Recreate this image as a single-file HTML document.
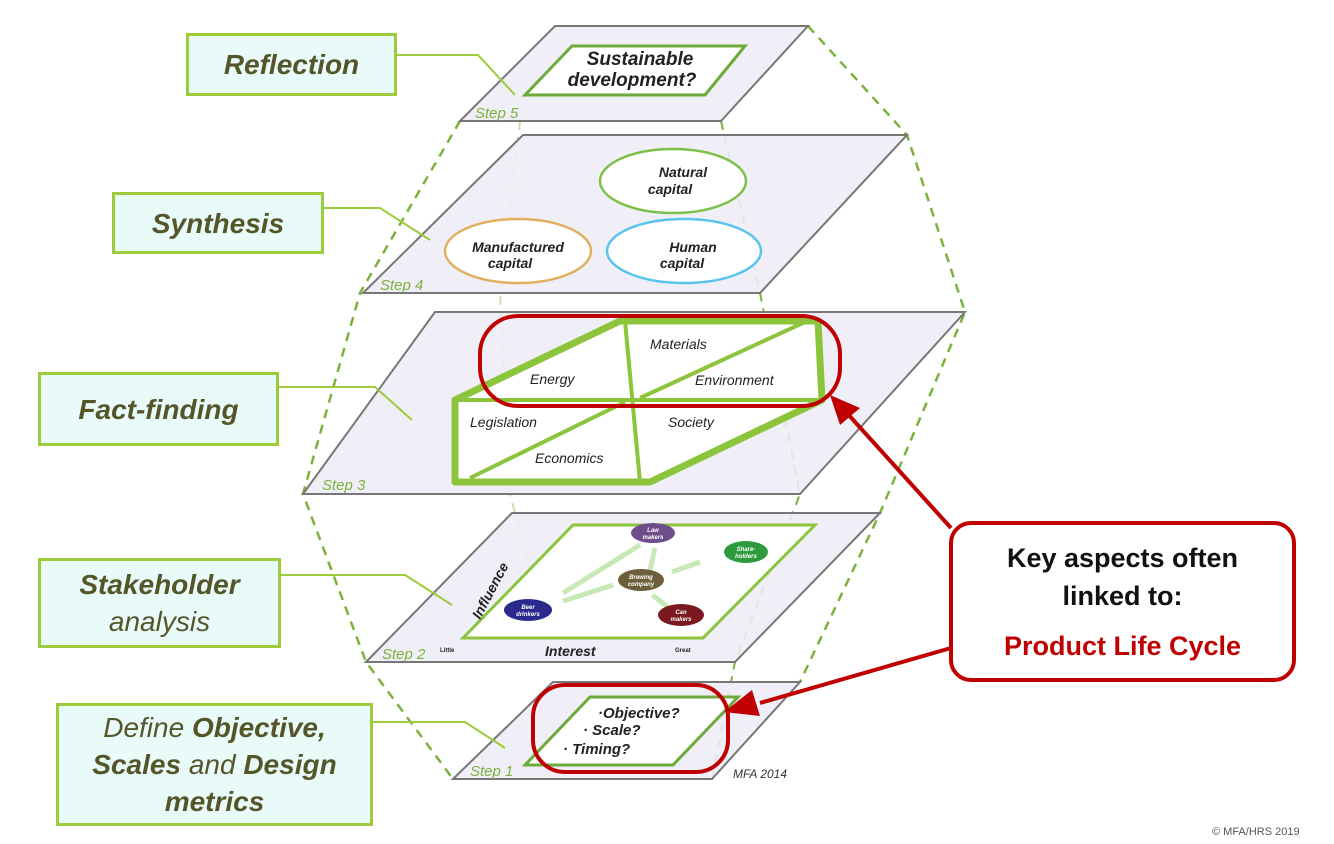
<!DOCTYPE html>
<html><head><meta charset="utf-8"><style>
html,body{margin:0;padding:0;background:#fff;}
body{width:1334px;height:844px;position:relative;overflow:hidden;font-family:"Liberation Sans",sans-serif;}
.lb{position:absolute;background:#e9fbf9;border:3px solid #9ccc3c;box-sizing:border-box;color:#55552a;font-style:italic;font-weight:bold;font-size:28px;display:flex;align-items:center;justify-content:center;text-align:center;line-height:37px;}
.n{font-weight:normal;}
</style></head><body>
<svg width="1334" height="844" style="position:absolute;left:0;top:0" font-family="Liberation Sans, sans-serif">
<defs>
<marker id="ah" markerWidth="8" markerHeight="8" refX="6" refY="4" orient="auto" markerUnits="userSpaceOnUse" viewBox="0 0 8 8"><path d="M0,0 L8,4 L0,8 z" fill="#c00000"/></marker>
</defs>
<g stroke="#7bb33a" stroke-width="2.5" stroke-dasharray="9,7" fill="none">
<polyline points="460,121 360,293 303,494 366,662 453,779"/>
<polyline points="808,26 907,135 965,312 880,513 800,682"/>
<polyline points="721,121 760,293 800,494 735,662 712,779" stroke-width="2"/>
</g>
<g stroke="#c9e0b0" stroke-width="2" stroke-dasharray="9,7" fill="none">
<polyline points="520,121 500,293 510,494 555,662"/>
</g>
<!-- planes -->
<g fill="#eeedf6" fill-opacity="0.88" stroke="#777" stroke-width="2">
<polygon points="453,779 553,682 800,682 712,779"/>
<polygon points="366,662 512,513 880,513 735,662"/>
<polygon points="303,494 435,312 965,312 800,494"/>
<polygon points="363,293 523,135 907,135 760,293"/>
<polygon points="460,121 555,26 808,26 721,121"/>
</g>
<!-- step labels -->
<g fill="#7bb33a" font-style="italic" font-size="15">
<text x="475" y="118">Step 5</text>
<text x="380" y="290">Step 4</text>
<text x="322" y="490">Step 3</text>
<text x="382" y="659">Step 2</text>
<text x="470" y="776">Step 1</text>
</g>
<text x="733" y="778" font-size="12" font-style="italic" fill="#333">MFA 2014</text>
<!-- step5 -->
<polygon points="525,95 572,46 745,46 705,95" fill="#fff" stroke="#6cab3a" stroke-width="3"/>
<g font-style="italic" font-weight="bold" font-size="19" fill="#222" text-anchor="middle">
<text x="640" y="65">Sustainable</text><text x="632" y="86">development?</text>
</g>
<!-- step4 -->
<ellipse cx="673" cy="181" rx="73" ry="32" fill="#fff" stroke="#7cc04a" stroke-width="2.5"/>
<ellipse cx="518" cy="251" rx="73" ry="32" fill="#fff" stroke="#e0b060" stroke-width="2.5"/>
<ellipse cx="684" cy="251" rx="77" ry="32" fill="#fff" stroke="#5ac4ee" stroke-width="2.5"/>
<g font-style="italic" font-weight="bold" font-size="14" fill="#222" text-anchor="middle">
<text x="683" y="177">Natural</text><text x="670" y="194">capital</text>
<text x="518" y="252">Manufactured</text><text x="510" y="268">capital</text>
<text x="693" y="252">Human</text><text x="682" y="268">capital</text>
</g>
<!-- step3 -->
<path d="M455,400 L620,321 L818,321 L822,400 L650,482 L455,482 Z" fill="#fff" stroke="#8cc43c" stroke-width="7" stroke-linejoin="round"/>
<g stroke="#8cc43c" stroke-width="4" fill="none">
<line x1="452" y1="400" x2="822" y2="400"/>
<line x1="625" y1="321" x2="640" y2="482"/>
<line x1="640" y1="398" x2="805" y2="322"/>
<line x1="470" y1="478" x2="625" y2="402"/>
</g>
<g font-style="italic" font-size="14" fill="#222">
<text x="530" y="384">Energy</text>
<text x="650" y="349">Materials</text>
<text x="695" y="385">Environment</text>
<text x="470" y="427">Legislation</text>
<text x="668" y="427">Society</text>
<text x="535" y="463">Economics</text>
</g>
<rect x="480" y="316" width="360" height="90" rx="38" fill="none" stroke="#c00000" stroke-width="4"/>
<!-- step2 -->
<polygon points="463,638 573,525 815,525 703,638" fill="#fff" stroke="#8cc43c" stroke-width="3"/>
<g stroke="#c8e8b8" stroke-width="5" fill="none">
<line x1="640" y1="545" x2="563" y2="593"/>
<line x1="563" y1="601" x2="613" y2="585"/>
<line x1="700" y1="562" x2="672" y2="572"/>
<line x1="650" y1="570" x2="655" y2="548"/>
<line x1="652" y1="595" x2="668" y2="607"/>
</g>
<ellipse cx="653" cy="533" rx="22" ry="10" fill="#6d4d8c"/>
<ellipse cx="746" cy="552" rx="22" ry="11" fill="#2e9a3e"/>
<ellipse cx="641" cy="580" rx="23" ry="11" fill="#6b5e38"/>
<ellipse cx="528" cy="610" rx="24" ry="11" fill="#2a2a8c"/>
<ellipse cx="681" cy="615" rx="23" ry="11" fill="#7a1a20"/>
<g font-size="6" fill="#fff" text-anchor="middle" font-weight="bold" font-style="italic">
<text x="653" y="532">Law</text><text x="653" y="539">makers</text>
<text x="746" y="551">Share-</text><text x="746" y="558">holders</text>
<text x="641" y="579">Brewing</text><text x="641" y="586">company</text>
<text x="528" y="609">Beer</text><text x="528" y="616">drinkers</text>
<text x="681" y="614">Can</text><text x="681" y="621">makers</text>
</g>
<text x="545" y="656" font-size="14" font-style="italic" font-weight="bold" fill="#222">Interest</text>
<text x="480" y="620" font-size="14" font-style="italic" font-weight="bold" fill="#222" transform="rotate(-62 480 620)">Influence</text>
<text x="440" y="652" font-size="6" fill="#222" font-weight="bold">Little</text>
<text x="675" y="652" font-size="6" fill="#222" font-weight="bold">Great</text>
<!-- step1 -->
<polygon points="525,765 590,697 738,697 673,765" fill="#fff" stroke="#6cab3a" stroke-width="3"/>
<g font-style="italic" font-weight="bold" font-size="15" fill="#222">
<text x="598" y="718">·Objective?</text>
<text x="583" y="735">· Scale?</text>
<text x="563" y="754">· Timing?</text>
</g>
<rect x="533" y="685" width="195" height="87" rx="32" fill="none" stroke="#c00000" stroke-width="4"/>
<!-- connectors -->
<g stroke="#9ccc3c" stroke-width="2" fill="none">
<polyline points="397,55 478,55 515,95"/>
<polyline points="324,208 380,208 430,240"/>
<polyline points="279,387 375,387 412,420"/>
<polyline points="281,575 405,575 452,605"/>
<polyline points="373,722 465,722 505,748"/>
</g>
<!-- red arrows -->
<g stroke="#c00000" stroke-width="4" fill="#c00000">
<line x1="951" y1="528" x2="846" y2="412"/>
<line x1="951" y1="648" x2="760" y2="703"/>
</g>
<polygon points="830,395 860,408 840,425" fill="#c00000"/>
<polygon points="724,712 752,690 760,716" fill="#c00000"/>
</svg>
<div class="lb" style="left:186px;top:33px;width:211px;height:63px;">Reflection</div>
<div class="lb" style="left:112px;top:192px;width:212px;height:62px;">Synthesis</div>
<div class="lb" style="left:38px;top:372px;width:241px;height:74px;">Fact-finding</div>
<div class="lb" style="left:38px;top:558px;width:243px;height:90px;flex-direction:column;">Stakeholder<span class="n">analysis</span></div>
<div class="lb" style="left:56px;top:703px;width:317px;height:123px;flex-direction:column;"><span><span class="n">Define </span>Objective,</span><span>Scales <span class="n">and</span> Design</span><span>metrics</span></div>
<div style="position:absolute;left:949px;top:521px;width:347px;height:161px;box-sizing:border-box;border:4px solid #c00000;border-radius:22px;background:#fff;text-align:center;font-weight:bold;font-size:27px;color:#111;line-height:38px;padding-top:14px;">Key aspects often<br>linked to:<div style="color:#c00000;margin-top:12px;">Product Life Cycle</div></div>
<div style="position:absolute;left:1212px;top:826px;font-size:11px;color:#555;">© MFA/HRS 2019</div>
</body></html>
